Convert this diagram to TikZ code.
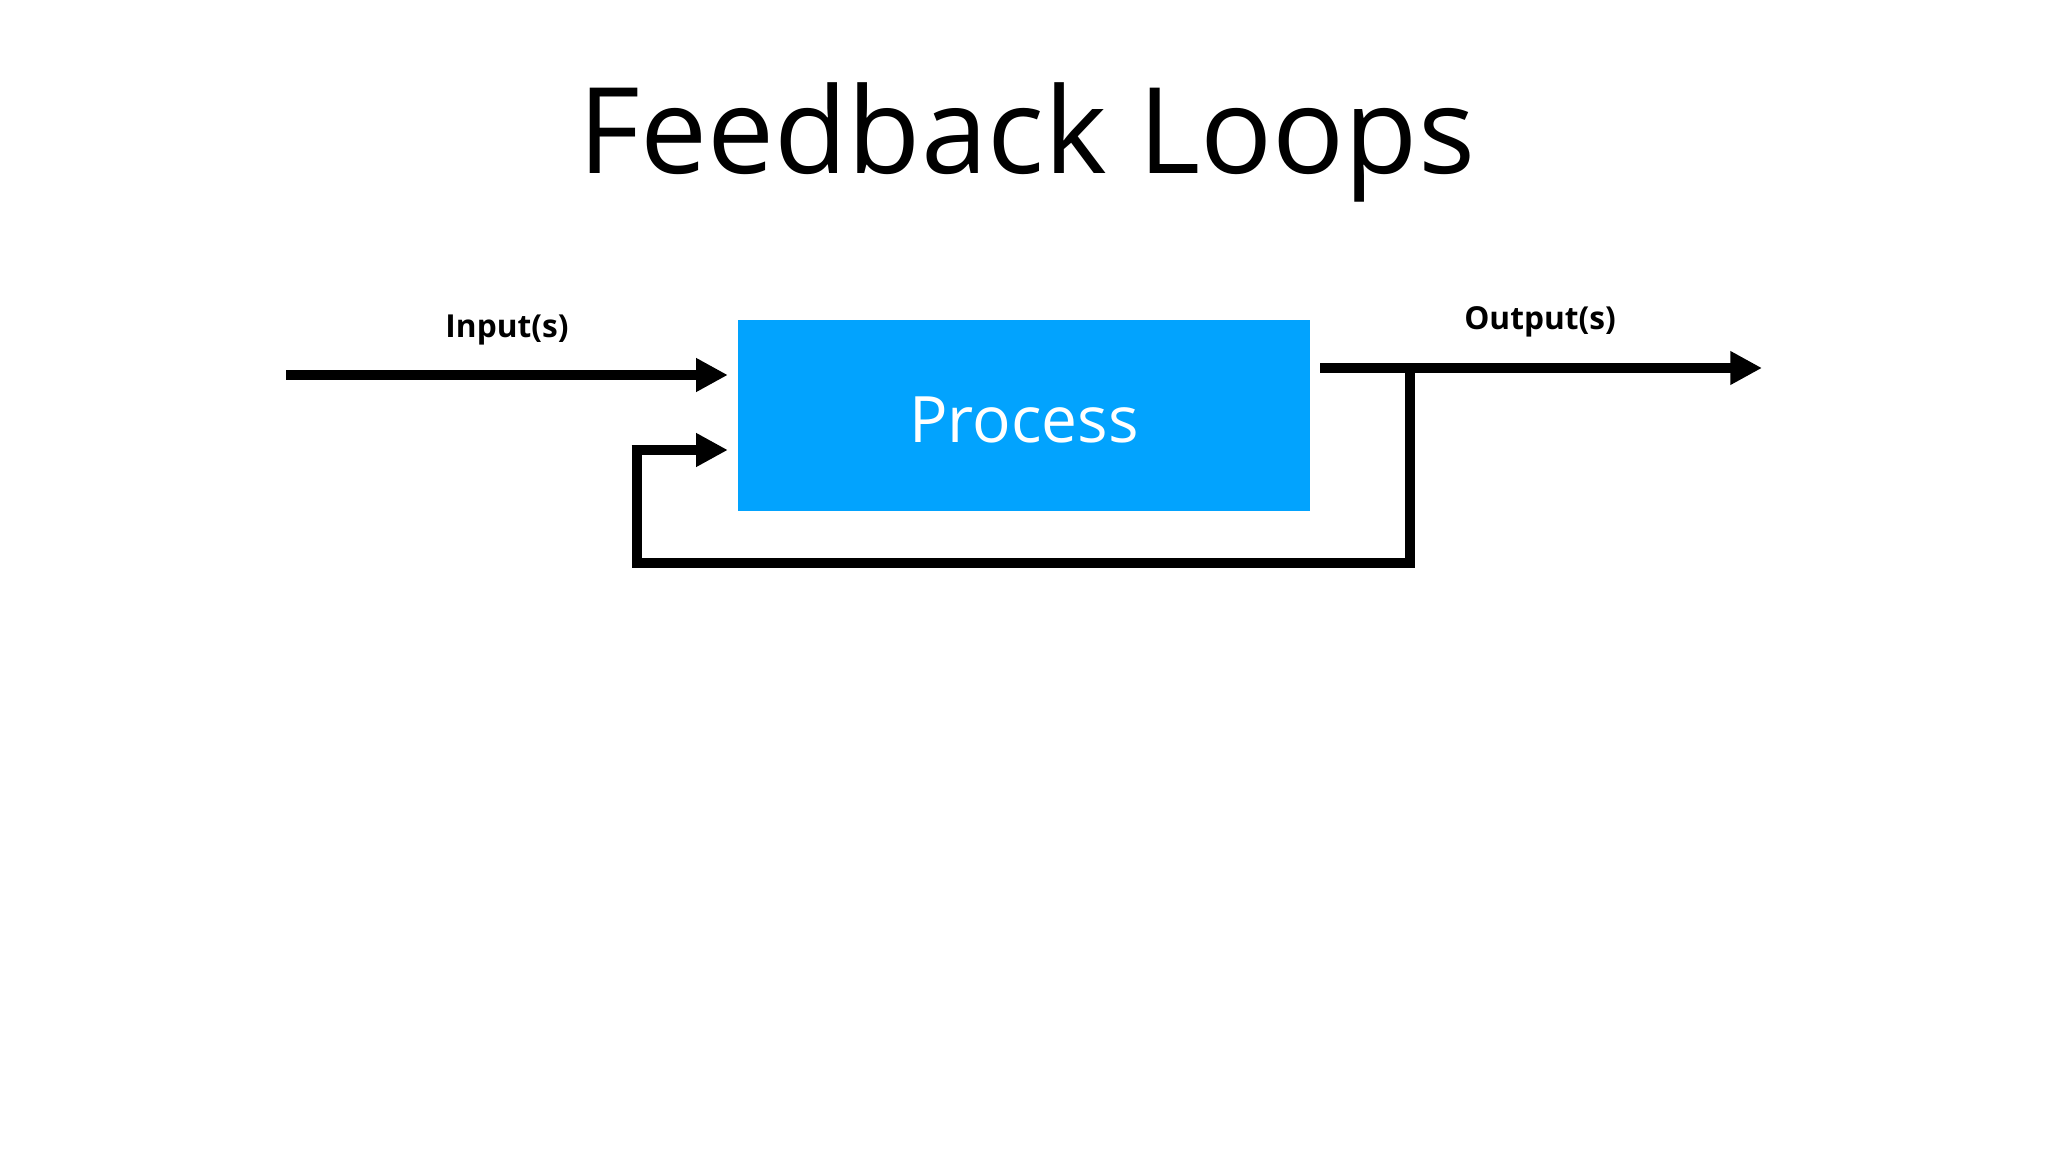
\documentclass[tikz,border=0pt]{standalone}
\usepackage{fontspec}
\setmainfont{Open Sans}
\usetikzlibrary{arrows.meta}
\definecolor{procblue}{RGB}{2,163,254}

\tikzset{
  flow/.style = {line width=3pt, -{Triangle[length=9pt,width=9pt]}},
  wire/.style = {line width=3pt},
  lbl/.style = {anchor=base, font=\bfseries\fontsize{9}{11}\selectfont},
}

\begin{document}
\begin{tikzpicture}[x=0.01cm, y=-0.01cm]
              \useasboundingbox (0,0) rectangle (2048,1152);
              % title
              \node (title) [anchor=base] at (1027,174) {\fontsize{34}{40}\selectfont Feedback Loops};
              % process box
              \node (proc) [fill=procblue, text=white, minimum width=5.72cm, minimum height=1.91cm,
                            outer sep=0.1cm, font=\fontsize{18.2}{22}\selectfont] at (1024,415.5) {};
              \node (proctxt) [anchor=base, text=white, font=\fontsize{18.2}{22}\selectfont] at (1024,443) {Process};
              % ends
              \coordinate (in) at (286,375);
              \coordinate (fb) at (637,450);
              \coordinate (out) at (1762,368);
              \coordinate (tap) at (1410,368);
              \coordinate (low) at (1410,563);
              \draw [flow] (in) -- (in -| proc.west);
              \draw [flow] (out -| proc.east) -- (out);
              \draw [wire, line join=miter] (tap) -- (low) -- (low -| fb) -- (fb);
              \draw [flow] ([xshift=-1.5pt]fb) -- (fb -| proc.west);
              % labels
              \node (inlbl) [lbl] at (507,338) {Input(s)};
              \node (outlbl) [lbl] at (1540,330) {Output(s)};
\end{tikzpicture}
\end{document}
